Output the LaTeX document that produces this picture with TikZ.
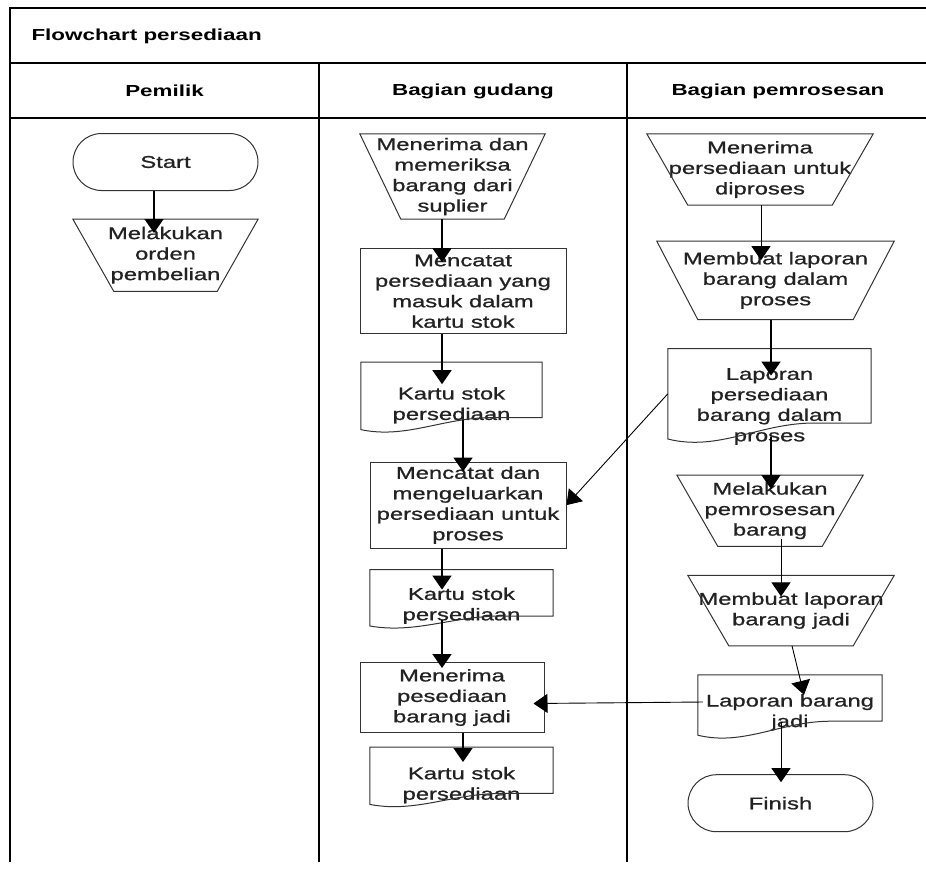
\documentclass[tikz,border=0pt]{standalone}
\usepackage{fontspec}
\setmainfont{Liberation Sans}[FakeStretch=1.4, UprightFeatures={FakeBold=0.9}]
\usepackage{tikz}
\usetikzlibrary{shapes.misc, arrows.meta, positioning, calc}

\definecolor{shapegray}{HTML}{333333}
\definecolor{textgray}{HTML}{222222}

% text of a document symbol, set a little lower than the middle
\newcommand{\lowtext}[2][14pt]{\raisebox{-#1}[0pt][0pt]{\begin{tabular}{@{}c@{}}#2\end{tabular}}}

\begin{document}
\begin{tikzpicture}[x=1pt, y=1pt, node distance=28pt,
    base/.style={align=center, inner sep=0pt, text=textgray, font=\fontsize{17}{20.5}\selectfont},
    term/.style={base, rounded rectangle, draw=shapegray, line width=1pt, minimum width=185pt, minimum height=57pt},
    manop/.style={base, rectangle},
    proc/.style={base, rectangle, draw=shapegray, line width=1pt},
    docu/.style={base, rectangle},
    hdr/.style={font=\fontsize{16}{19}\selectfont\bfseries, text=black},
    lane/.style={line width=1.5pt, black},
    outline/.style={draw=shapegray, line width=1pt},
    flow/.style={line width=1.6pt, -{Triangle[length=14pt, width=19pt]}},
    flowthin/.style={line width=0.9pt, -{Triangle[length=14pt, width=19pt]}}
]
    \useasboundingbox (0,0) rectangle (926,-892);

    % swimlanes
    \draw[lane] (926,-8) -- (10,-8) -- (10,-862);
    \draw[lane] (10,-63) -- (926,-63);
    \draw[lane] (10,-118) -- (926,-118);
    \draw[lane] (319,-63) -- (319,-862);
    \draw[lane] (627,-63) -- (627,-862);

    \node[hdr, anchor=west] (title) at (28,-36) {Flowchart persediaan};
    \node[hdr] (hpemilik) at (164.5,-91) {Pemilik};
    \node[hdr] (hgudang) at (473,-91) {Bagian gudang};
    \node[hdr] (hproses) at (778,-91) {Bagian pemrosesan};

    % Pemilik
    \node[term] (start) at (165.5,-162) {Start};
    \node[manop, minimum width=185pt, minimum height=72pt, below=28pt of start] (orden) {Melakukan\\orden\\pembelian};

    % Bagian gudang
    \node[manop, minimum width=185pt, minimum height=85pt] (terima) at (452.5,-176.5) {Menerima dan\\memeriksa\\barang dari\\suplier};
    \node[proc, minimum width=206pt, minimum height=85pt, below=29pt of terima, xshift=10.5pt] (catat) {Mencatat\\persediaan yang\\masuk dalam\\kartu stok};
    \node[docu, minimum width=181pt, minimum height=67pt, below=28pt of catat, xshift=-11.5pt] (kartua) {\lowtext{Kartu stok\\persediaan}};
    \node[proc, minimum width=196pt, minimum height=86pt, below=32pt of kartua, xshift=16.5pt] (keluar) {Mencatat dan\\mengeluarkan\\persediaan untuk\\proses};
    \node[docu, minimum width=183pt, minimum height=56pt, below=21pt of keluar, xshift=-6.5pt] (kartub) {\lowtext[12.5pt]{Kartu stok\\persediaan}};
    \node[proc, minimum width=184pt, minimum height=70pt, below=36pt of kartub, xshift=-9.5pt] (jadi) {Menerima\\pesediaan\\barang jadi};
    \node[docu, minimum width=183pt, minimum height=57pt, below=14pt of jadi, xshift=9.5pt] (kartuc) {\lowtext{Kartu stok\\persediaan}};

    % Bagian pemrosesan
    \node[manop, minimum width=226pt, minimum height=71pt] (terproses) at (760,-169.5) {Menerima\\persediaan untuk\\diproses};
    \node[manop, minimum width=237pt, minimum height=78pt, below=36pt of terproses, xshift=15.5pt] (lapbuat) {Membuat laporan\\barang dalam\\proses};
    \node[docu, minimum width=203pt, minimum height=90pt, below=29pt of lapbuat, xshift=-6pt] (lapproses) {\lowtext[17pt]{Laporan\\persediaan\\barang dalam\\proses}};
    \node[manop, minimum width=186pt, minimum height=71pt, below=36pt of lapproses, xshift=0.5pt] (proses) {Melakukan\\pemrosesan\\barang};
    \node[manop, minimum width=206pt, minimum height=70pt, below=29pt of proses, xshift=21pt] (lapjadibuat) {Membuat laporan\\barang jadi};
    \node[docu, minimum width=184pt, minimum height=60pt, below=29pt of lapjadibuat, xshift=-1pt] (lapjadi) {\lowtext[12pt]{Laporan barang\\jadi}};
    \node[term, below=39pt of lapjadi, xshift=-9.5pt] (finish) {Finish};

    % manual operation outlines
    \foreach \n in {orden,terima,terproses,lapbuat,proses,lapjadibuat}
        \draw[outline] (\n.north west) -- (\n.north east) -- ([xshift=-41]\n.south east) -- ([xshift=41]\n.south west) -- cycle;

    % document outlines
    \foreach \n/\d in {kartua/12,kartub/10,kartuc/11,lapproses/16,lapjadi/14}
        \draw[outline] (\n.north west) -- (\n.north east) -- ([yshift=\d]\n.south east)
            -- ($(\n.south west)!0.72!(\n.south east)+(0,\d)$)
            .. controls ($(\n.south west)!0.45!(\n.south east)+(0,\d)$) and ($(\n.south west)!0.25!(\n.south east)+(0,-0.8*\d)$) .. (\n.south west) -- cycle;

    % connectors
    \draw[flow] ([xshift=-11.5]start.south) -- ([xshift=-11.5,yshift=-14]orden.north);
    \draw[flow] ([xshift=-10.5]terima.south) -- ([xshift=-21,yshift=-14]catat.north);
    \draw[flow] ([xshift=-21]catat.south) -- ([xshift=-9.5,yshift=-22]kartua.north);
    \draw[flow] ([xshift=11.5,yshift=10]kartua.south) -- ([xshift=-5,yshift=-10]keluar.north);
    \draw[flow] ([xshift=-26]keluar.south) -- ([xshift=-19.5,yshift=-20]kartub.north);
    \draw[flow] ([xshift=-19.5,yshift=6]kartub.south) -- ([xshift=-10,yshift=-6]jadi.north);
    \draw[flow] ([xshift=11]jadi.south) -- ([xshift=1.5,yshift=-15]kartuc.north);

    \draw[flowthin] ([xshift=1]terproses.south) -- ([xshift=-14.5,yshift=-19]lapbuat.north);
    \draw[flow] ([xshift=-4.5]lapbuat.south) -- ([xshift=1.5,yshift=-27]lapproses.north);
    \draw[flow] ([xshift=1.5,yshift=2]lapproses.south) -- ([xshift=1,yshift=-14]proses.north);
    \draw[flowthin] (lapproses.west) -- (keluar.east);
    \draw[flowthin] ([xshift=11,yshift=7]proses.south) -- ([xshift=-10,yshift=-21]lapjadibuat.north);
    \draw[flowthin] ([xshift=1]lapjadibuat.south) -- ([xshift=14,yshift=-20]lapjadi.north);
    \draw[flowthin] ([xshift=-9,yshift=13]lapjadi.south) -- ([xshift=0.5,yshift=-8]finish.north);
    \draw[flowthin] ([xshift=5,yshift=3]lapjadi.west) -- ([xshift=-11,yshift=-6]jadi.east);
\end{tikzpicture}
\end{document}
